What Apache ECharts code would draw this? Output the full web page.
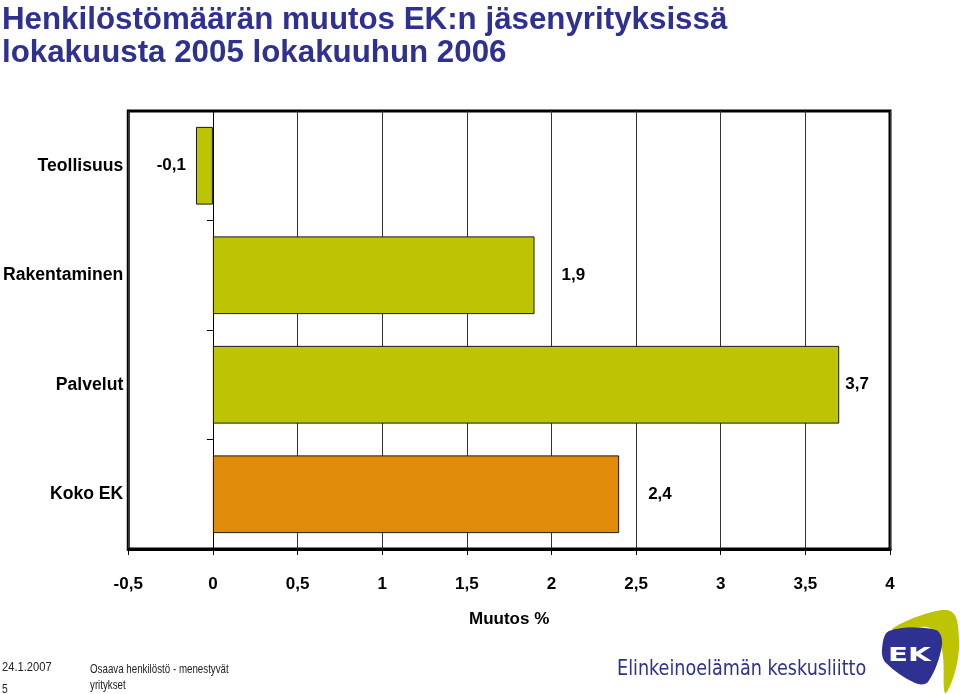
<!DOCTYPE html>
<html>
<head>
<meta charset="utf-8">
<script src="https://cdn.jsdelivr.net/npm/echarts@6/dist/echarts.min.js"></script>
<style>
html,body{margin:0;padding:0;background:#fff;}
#chart{width:960px;height:694px;}
</style>
</head>
<body>
<div id="chart"></div>
<script>
// ---- data ----
const categories = ['Teollisuus', 'Rakentaminen', 'Palvelut', 'Koko EK'];
const values = [-0.1, 1.9, 3.7, 2.4];
const xTicks = { min: -0.5, max: 4, interval: 0.5 };
const axisName = 'Muutos %';
const titleLines = ['Henkilöstömäärän muutos EK:n jäsenyrityksissä', 'lokakuusta 2005 lokakuuhun 2006'];
const footerDate = '24.1.2007';
const footerPage = '5';
const footerTopic = ['Osaava henkilöstö - menestyvät', 'yritykset'];
const footerOrg = 'Elinkeinoelämän keskusliitto';

// ---- layout / style (not data) ----
const barColors = ['#BCC404', '#BCC404', '#BCC404', '#E08C0A'];
const labelGap = [10, 27, 6, 29];
const fmt = v => String(v).replace('.', ',');
const FONT = '"Liberation Sans", Arial, sans-serif';

const seriesData = values.map((v, i) => ({
  value: v,
  itemStyle: { color: barColors[i] },
  label: { position: v < 0 ? 'left' : 'right', distance: labelGap[i] }
}));

const chart = echarts.init(document.getElementById('chart'), null, { renderer: 'canvas' });
chart.setOption({
  animation: false,
  backgroundColor: '#fff',
  title: {
    text: titleLines.join('\n'),
    left: 2, top: 0, padding: [4, 0, 0, 0],
    textStyle: { fontFamily: FONT, fontSize: 31.3, fontWeight: 'bold', color: '#2E3192', lineHeight: 33 }
  },
  grid: {
    left: 128, right: 70, top: 111, bottom: 145,
    show: true, borderColor: '#000', borderWidth: 3, backgroundColor: 'transparent'
  },
  xAxis: {
    type: 'value',
    min: xTicks.min, max: xTicks.max, interval: xTicks.interval,
    axisLine: { show: true, lineStyle: { color: '#000', width: 3 } },
    axisTick: { show: true, length: 6, lineStyle: { color: '#000', width: 1 } },
    splitLine: { show: true, lineStyle: { color: '#333', width: 1 } },
    axisLabel: {
      formatter: fmt, margin: 27,
      fontFamily: FONT, fontSize: 17, fontWeight: 'bold', color: '#000'
    },
    name: axisName, nameLocation: 'middle', nameGap: 62,
    nameTextStyle: { fontFamily: FONT, fontSize: 17, fontWeight: 'bold', color: '#000' }
  },
  yAxis: [
    {
      type: 'category', data: categories, inverse: true, position: 'left',
      axisLine: { show: false, onZero: false }, axisTick: { show: false },
      axisLabel: { margin: 5, fontFamily: FONT, fontSize: 17.6, fontWeight: 'bold', color: '#000' }
    },
    {
      type: 'category', data: categories, inverse: true, position: 'left',
      axisLine: { show: true, onZero: true, lineStyle: { color: '#000', width: 1 } },
      axisTick: { show: true, length: 6, lineStyle: { color: '#000', width: 1 } },
      axisLabel: { show: false }
    }
  ],
  series: [{
    type: 'bar',
    yAxisIndex: 0,
    data: seriesData,
    barWidth: '71%',
    itemStyle: { borderColor: '#1a1a1a', borderWidth: 1 },
    label: {
      show: true, formatter: p => fmt(p.value),
      fontFamily: FONT, fontSize: 17, fontWeight: 'bold', color: '#000'
    },
    z: 3
  }],
  graphic: [
    { type: 'text', x: 2, y: 661, scaleX: 0.86, style: { text: footerDate, font: '13px ' + FONT, fill: '#222' } },
    { type: 'text', x: 2, y: 684, scaleX: 0.86, style: { text: footerPage, font: '12px ' + FONT, fill: '#222' } },
    { type: 'text', x: 90, y: 661, scaleX: 0.75, style: { text: footerTopic.join('\n'), lineHeight: 16, font: '13px ' + FONT, fill: '#222' } },
    { type: 'text', x: 617, y: 658, scaleX: 0.89, style: { text: footerOrg, font: '22px "DejaVu Sans Condensed", sans-serif', fill: '#2E3192' } },
    { type: 'polygon', z: 10, shape: { smooth: 0.35, points: [[892, 630], [922, 615], [952, 612], [959, 640], [955, 672], [945, 693], [942, 650], [930, 628]] }, style: { fill: '#BCC404' } },
    { type: 'polygon', z: 11, shape: { smooth: 0.35, points: [[882, 650], [889, 631], [936, 630], [942, 645], [928, 682], [915, 683], [886, 663]] }, style: { fill: '#2E3192' } },
    { type: 'text', z: 12, x: 888, y: 647, scaleX: 1.55, style: { text: 'EK', font: 'bold 19px "DejaVu Sans", sans-serif', fill: '#fff' } }
  ]
});
</script>
</body>
</html>
